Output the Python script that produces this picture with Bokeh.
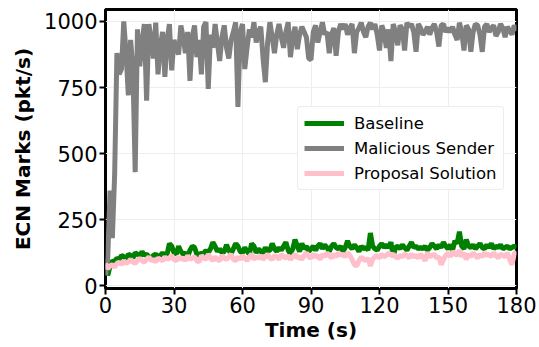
from bokeh.plotting import figure
from bokeh.models import Range1d, FixedTicker, Legend, LegendItem
from bokeh.embed import file_html
from bokeh.resources import INLINE

time_s = list(range(0, 181))

malicious = [
    40, 110, 360, 180, 420, 880, 800, 820, 1000, 880,
    720, 930, 820, 430, 970, 830, 920, 990, 700, 990,
    930, 860, 995, 800, 905, 960, 790, 930, 990, 815,
    930, 900, 875, 985, 940, 880, 960, 775, 940, 985,
    865, 930, 800, 980, 997, 745, 950, 900, 990, 920,
    850, 940, 985, 900, 860, 930, 960, 997, 677, 960,
    990, 820, 900, 970, 940, 997, 920, 960, 980, 860,
    770, 920, 997, 940, 880, 950, 990, 940, 900, 960,
    997, 865, 940, 980, 895, 950, 980, 960, 940, 860,
    855, 960, 985, 920, 960, 997, 950, 960, 880, 950,
    975, 870, 960, 990, 970, 990, 950, 975, 990, 880,
    960, 975, 995, 960, 940, 980, 995, 970, 990, 950,
    890, 985, 960, 900, 970, 850, 990, 960, 910, 985,
    970, 890, 995, 980, 990, 960, 885, 990, 975, 950,
    960, 980, 950, 975, 990, 960, 905, 985, 990, 960,
    975, 960, 980, 950, 930, 995, 960, 890, 985, 970,
    885, 960, 990, 985, 950, 885, 980, 990, 960, 975,
    985, 945, 960, 990, 975, 940, 980, 965, 950, 985,
    965,
]

baseline = [
    100, 40, 75, 95, 90, 105, 100, 115, 110, 100,
    120, 115, 105, 125, 120, 110, 130, 115, 120, 110,
    105, 115, 120, 110, 115, 125, 115, 120, 160, 150,
    125, 120, 150, 130, 120, 125, 110, 135, 150, 145,
    120, 115, 125, 120, 135, 125, 140, 165, 150, 130,
    140, 125, 130, 155, 135, 120, 140, 160, 150, 130,
    125, 145, 130, 120, 160, 150, 125, 140, 130, 125,
    145, 130, 135, 160, 140, 130, 145, 135, 150, 165,
    135, 120, 140, 175, 150, 130, 160, 140, 150, 130,
    140, 150, 135, 150, 160, 140, 155, 145, 130, 150,
    160, 145, 140, 150, 130, 145, 170, 150, 140, 155,
    145, 130, 150, 140, 145, 135, 200, 150, 140, 135,
    150, 160, 145, 155, 145, 165, 110, 145, 150, 140,
    155, 145, 135, 150, 165, 145, 150, 140, 145, 140,
    150, 135, 145, 160, 150, 140, 155, 145, 165, 150,
    140, 155, 135, 170, 160, 205, 150, 140, 175, 150,
    145, 155, 140, 150, 160, 145, 140, 155, 145, 160,
    140, 150, 145, 155, 140, 145, 150, 140, 145, 150,
    145,
]

proposal = [
    85, 65, 75, 80, 70, 85, 90, 80, 95, 85,
    90, 100, 90, 85, 95, 105, 95, 90, 100, 110,
    95, 100, 90, 105, 100, 95, 110, 100, 105, 115,
    100, 95, 110, 100, 105, 95, 115, 100, 105, 110,
    95, 90, 115, 105, 100, 120, 105, 95, 110, 100,
    95, 115, 105, 100, 110, 120, 100, 95, 110, 100,
    115, 105, 95, 110, 120, 100, 110, 105, 115, 100,
    110, 120, 105, 100, 115, 110, 100, 120, 110, 105,
    115, 100, 110, 120, 105, 110, 100, 115, 125, 110,
    105, 120, 110, 115, 100, 120, 110, 125, 115, 105,
    120, 110, 125, 115, 120, 110, 125, 115, 100, 80,
    75, 95, 110, 100, 95, 105, 75, 100, 110, 115,
    105, 120, 110, 115, 125, 115, 120, 110, 105, 115,
    110, 120, 115, 105, 120, 110, 115, 105, 120, 110,
    95, 125, 110, 115, 120, 105, 110, 80, 100, 115,
    125, 110, 130, 120, 115, 135, 110, 125, 100, 120,
    110, 125, 115, 105, 120, 110, 125, 115, 120, 110,
    125, 115, 105, 120, 115, 110, 125, 100, 80, 120,
    130,
]

x_ticks = [0, 30, 60, 90, 120, 150, 180]
y_ticks = [0, 250, 500, 750, 1000]
series_names = ["Baseline", "Malicious Sender", "Proposal Solution"]
series_colors = ["green", "gray", "pink"]

FONT = "DejaVu Sans"

p = figure(width=539, height=347, output_backend="svg", toolbar_location=None,
           x_range=Range1d(0, 180), y_range=Range1d(-10, 1045),
           min_border_left=105, min_border_right=23, min_border_top=9, min_border_bottom=59)

p.outline_line_color = "black"
p.outline_line_width = 3
p.background_fill_color = "white"
p.border_fill_color = "white"

r1 = p.line(time_s, baseline, line_color=series_colors[0], line_width=5)
r2 = p.line(time_s, malicious, line_color=series_colors[1], line_width=5)
r3 = p.line(time_s, proposal, line_color=series_colors[2], line_width=5)

p.xaxis.ticker = FixedTicker(ticks=x_ticks)
p.yaxis.ticker = FixedTicker(ticks=y_ticks)
for ax in (p.xaxis[0], p.yaxis[0]):
    ax.axis_line_color = None
    ax.major_tick_line_color = "black"
    ax.major_tick_line_width = 2
    ax.major_tick_out = 6
    ax.major_tick_in = 0
    ax.minor_tick_line_color = None
    ax.major_label_text_font = FONT
    ax.major_label_text_font_size = "21px"
    ax.major_label_text_color = "black"
    ax.axis_label_text_font = FONT
    ax.axis_label_text_font_size = "20px"
    ax.axis_label_text_font_style = "bold"
    ax.axis_label_text_color = "black"
    ax.major_label_standoff = 2

p.xaxis.axis_label = "Time (s)"
p.yaxis.axis_label = "ECN Marks (pkt/s)"
p.xaxis.axis_label_standoff = 2
p.yaxis.axis_label_standoff = 6

p.xgrid.grid_line_color = "#eeeeee"
p.ygrid.grid_line_color = "#eeeeee"
p.xgrid.grid_line_width = 1
p.ygrid.grid_line_width = 1

legend = Legend(items=[LegendItem(label=series_names[0], renderers=[r1]),
                       LegendItem(label=series_names[1], renderers=[r2]),
                       LegendItem(label=series_names[2], renderers=[r3])],
                location=(192, 98))
legend.label_text_font = FONT
legend.label_text_font_size = "16.5px"
legend.label_text_color = "black"
legend.glyph_width = 40
legend.glyph_height = 20
legend.label_height = 20
legend.spacing = 5
legend.padding = 6
legend.label_standoff = 10
legend.border_line_color = "#d9d9d9"
legend.border_line_width = 1
legend.border_radius = 4
legend.background_fill_alpha = 0.9
p.add_layout(legend, "center")

open("out.html", "w").write(file_html(p, INLINE))
